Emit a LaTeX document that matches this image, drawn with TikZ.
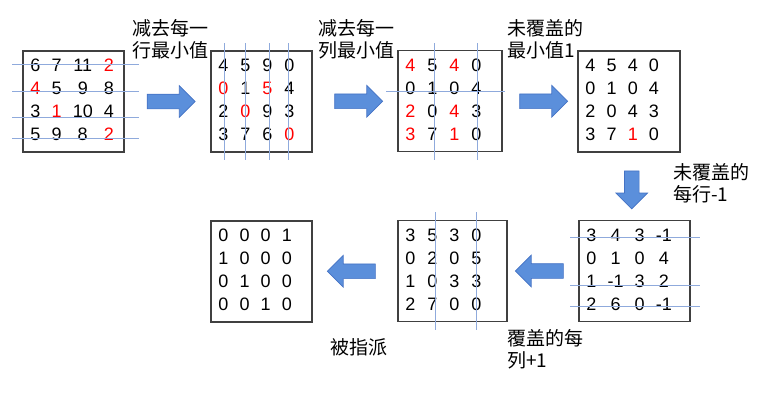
\documentclass[tikz,border=0pt]{standalone}
\usepackage{fontspec}
\setmainfont{Liberation Sans}
\newfontfamily\cjk{Noto Sans CJK SC}
\usepackage{xcolor}
\usepackage{tikz}
\usetikzlibrary{shapes,arrows,positioning,calc}
\definecolor{arrblue}{RGB}{91,143,219}
\definecolor{arredge}{RGB}{68,114,196}
\definecolor{guideblue}{RGB}{143,170,220}
\newcommand{\hl}[1]{\textcolor{red}{#1}}
\setlength{\tabcolsep}{4.2pt}

\begin{document}
\begin{tikzpicture}[x=0.75pt, y=-0.75pt,
    box/.style={rectangle, draw=black!75, line width=0.9pt, text width=#1, align=left, minimum height=75.75pt, inner xsep=5.5pt, inner ysep=0pt, font=\fontsize{13.5pt}{17.3pt}\selectfont},
    box/.default=64.75pt,
    blockarrow/.style={single arrow, fill=arrblue, draw=arredge, line width=0.5pt, minimum height=36pt, inner sep=5.25pt, single arrow head extend=6.4pt, shape border rotate=#1},
    blockarrow/.default=0,
    guide/.style={draw=guideblue, line width=0.75pt},
    note/.style={font=\cjk\fontsize{14.25pt}{16.5pt}\selectfont, align=left, anchor=west, inner sep=0pt}
]
    \useasboundingbox (0,0) rectangle (762,393);

    % Matrices, top row
    \node [box] (m1) at (73.5,101.5) {\begin{tabular}{@{}cccc@{}}
        6 & 7 & 11 & \hl{2} \\ \hl{4} & 5 & 9 & 8 \\ 3 & \hl{1} & 10 & 4 \\ 5 & 9 & 8 & \hl{2}
    \end{tabular}};
    \node [box] (m2) at (261.5,101.5) {\setlength{\tabcolsep}{4.5pt}\begin{tabular}{@{}cccc@{}}
        4 & 5 & 9 & 0 \\ \hl{0} & 1 & \hl{5} & 4 \\ 2 & \hl{0} & 9 & 3 \\ 3 & 7 & 6 & \hl{0}
    \end{tabular}};
    \node [box=67pt] (m3) at (450,101) {\setlength{\tabcolsep}{4.5pt}\begin{tabular}{@{}cccc@{}}
        \hl{4} & 5 & \hl{4} & 0 \\ 0 & 1 & 0 & 4 \\ \hl{2} & 0 & \hl{4} & 3 \\ \hl{3} & 7 & \hl{1} & 0
    \end{tabular}};
    \node [box=65.5pt] (m4) at (629,101.5) {\begin{tabular}{@{}cccc@{}}
        4 & 5 & 4 & 0 \\ 0 & 1 & 0 & 4 \\ 2 & 0 & 4 & 3 \\ 3 & 7 & \hl{1} & 0
    \end{tabular}};

    % Matrices, bottom row
    \node [box=72.25pt] (m5) at (634.5,271) {\begin{tabular}{@{}cccc@{}}
        3 & 4 & 3 & -1 \\ 0 & 1 & 0 & 4 \\ 1 & -1 & 3 & 2 \\ 2 & 6 & 0 & -1
    \end{tabular}};
    \node [box=70.75pt] (m6) at (452.5,271) {\setlength{\tabcolsep}{4.5pt}\begin{tabular}{@{}cccc@{}}
        3 & 5 & 3 & 0 \\ 0 & 2 & 0 & 5 \\ 1 & 0 & 3 & 3 \\ 2 & 7 & 0 & 0
    \end{tabular}};
    \node [box] (m7) at (261.5,271.5) {\begin{tabular}{@{}cccc@{}}
        0 & 0 & 0 & 1 \\ 1 & 0 & 0 & 0 \\ 0 & 1 & 0 & 0 \\ 0 & 0 & 1 & 0
    \end{tabular}};

    % Covering lines
    \foreach \y in {64,91,117,138} \draw [guide] (12,\y) -- (139,\y);
    \foreach \x in {224,245,269,288} \draw [guide] (\x,43) -- (\x,160);
    \foreach \x in {434,477} \draw [guide] (\x,43) -- (\x,160);
    \draw [guide] (386,91) -- (505,91);
    \foreach \y in {237,285,306} \draw [guide] (570,\y) -- (700,\y);
    \foreach \x in {435,476} \draw [guide] (\x,212) -- (\x,330);

    % Steps
    \node [blockarrow] (s1) at ($(m1.east)!0.5!(m2.west)$) {};
    \node [blockarrow] (s2) at ($(m2.east)!0.5!(m3.west)$) {};
    \node [blockarrow] (s3) at ($(m3.east)!0.5!(m4.west)$) {};
    \node [blockarrow=270, minimum height=28.5pt] (s4) at ($(m4.south)!0.5!(m5.north)$) {};
    \node [blockarrow=180] (s5) at ($(m5.west)!0.5!(m6.east)$) {};
    \node [blockarrow=180] (s6) at ($(m6.west)!0.5!(m7.east)$) {};

    % Step labels
    \node [note] (t1) at (132,39) {减去每一\\行最小值};
    \node [note] (t2) at (318,39) {减去每一\\列最小值};
    \node [note] (t3) at (507,39) {未覆盖的\\最小值1};
    \node [note] (t4) at (673,183.5) {未覆盖的\\每行-1};
    \node [note] (t5) at (507,349) {覆盖的每\\列+1};
    \node [note] (t6) at (330,347) {被指派};
\end{tikzpicture}
\end{document}
